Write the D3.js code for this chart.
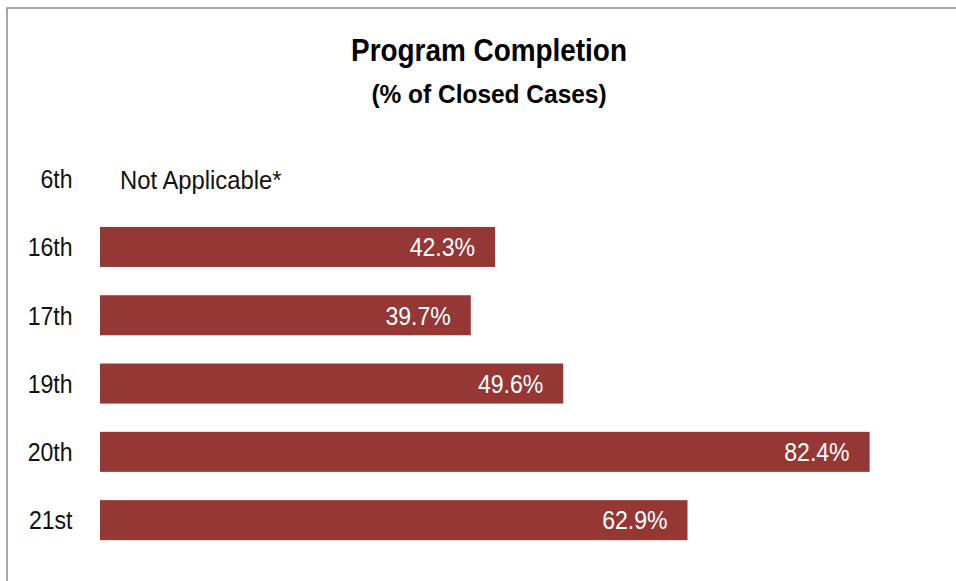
<!DOCTYPE html>
<html>
<head>
<meta charset="utf-8">
<script src="https://cdn.jsdelivr.net/npm/d3@7"></script>
<style>
  html, body { margin: 0; padding: 0; background: #fff; }
  svg { display: block; }
  text { font-family: "Liberation Sans", Arial, sans-serif; }
</style>
</head>
<body>
<div id="chart"></div>
<script>
// chart data
const districts = ['6th', '16th', '17th', '19th', '20th', '21st'];
const completion = [null, 42.3, 39.7, 49.6, 82.4, 62.9];
const naLabel = 'Not Applicable*';
const title = 'Program Completion';
const subtitle = '(% of Closed Cases)';

const width = 956, height = 581;
const barColor = '#943735';
const squeeze = 0.87; // the original face is a condensed gothic

const svg = d3.select('#chart')
  .append('svg')
  .attr('width', width)
  .attr('height', height);

// frame (top + left rules)
svg.append('path')
  .attr('d', 'M7,' + height + 'V8H' + width)
  .attr('fill', 'none')
  .attr('stroke', '#8a8a8a')
  .attr('stroke-width', 1.5);

// narrow text: place a group, then scale it horizontally
function label(parent, px, py, str, anchor, sx) {
  return parent.append('g')
    .attr('transform', 'translate(' + px + ',' + py + ') scale(' + (sx || squeeze) + ',1)')
    .append('text')
    .attr('text-anchor', anchor || 'start')
    .text(str);
}

label(svg, 489, 61, title, 'middle', 0.9)
  .style('font-size', '31px')
  .style('font-weight', 'bold');

label(svg, 489, 102.5, subtitle, 'middle', 0.96)
  .style('font-size', '25.5px')
  .style('font-weight', 'bold');

const data = districts.map((d, i) => ({ district: d, value: completion[i] }));

const x = d3.scaleLinear()
  .domain([0, 100])
  .range([100, 1034]);

const y = d3.scaleBand()
  .domain(districts)
  .range([144.5, 554.3])
  .paddingInner(0.414)
  .paddingOuter(0.207);

const fs = 26.5;
const base = fs * 0.35; // baseline offset from band centre

// category axis, no line or ticks
const yAxis = svg.append('g')
  .attr('transform', 'translate(72.5,0)')
  .call(d3.axisLeft(y).tickSize(0).tickPadding(0));
yAxis.select('.domain').remove();
yAxis.selectAll('text')
  .attr('x', 0)
  .attr('dy', null)
  .attr('y', base)
  .attr('transform', 'scale(' + squeeze + ',1)')
  .attr('fill', '#111')
  .style('font-size', fs + 'px')
  .style('font-family', null);

const rows = svg.selectAll('.row')
  .data(data)
  .enter()
  .append('g')
  .attr('class', 'row');

const withValue = rows.filter(d => d.value != null);

withValue.append('rect')
  .attr('x', x(0))
  .attr('y', d => y(d.district))
  .attr('width', d => x(d.value) - x(0))
  .attr('height', y.bandwidth())
  .attr('fill', barColor);

withValue.each(function (d) {
  label(d3.select(this), x(d.value) - 20, y(d.district) + y.bandwidth() / 2 + base,
    d.value.toFixed(1) + '%', 'end')
    .attr('fill', '#fff')
    .style('font-size', fs + 'px');
});

rows.filter(d => d.value == null).each(function (d) {
  label(d3.select(this), x(0) + 20, y(d.district) + y.bandwidth() / 2 + base + 1, naLabel,
    'start', 0.9)
    .attr('fill', '#111')
    .style('font-size', fs + 'px');
});
</script>
</body>
</html>
